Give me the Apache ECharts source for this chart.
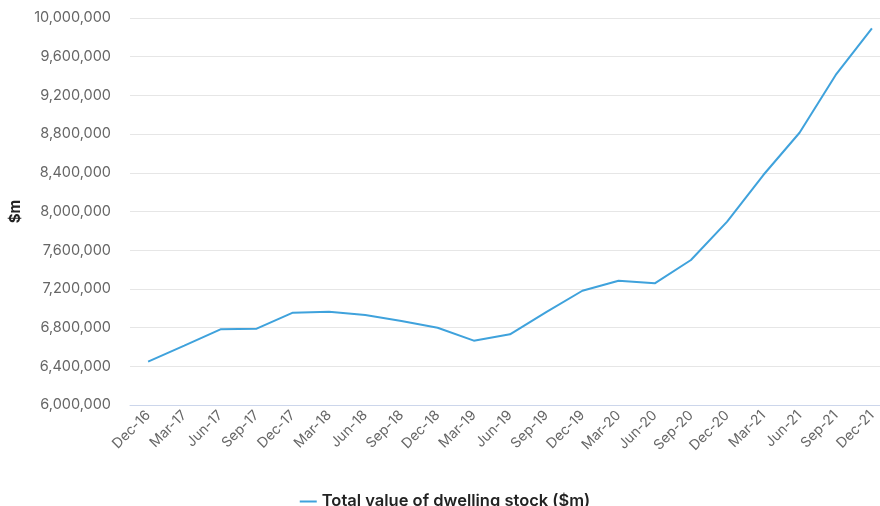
<!DOCTYPE html>
<html>
<head>
<meta charset="utf-8">
<script src="https://cdn.jsdelivr.net/npm/echarts@6/dist/echarts.min.js"></script>
<style>
  html, body { margin: 0; padding: 0; background: #fff; overflow: hidden; }
  /* chart is slightly wider than the window; the right edge is cut off */
  #chart { width: 890px; height: 506px; }
</style>
</head>
<body>
<div id="chart"></div>
<script>
// Quarterly periods
const quarters = [
  'Dec-16', 'Mar-17', 'Jun-17', 'Sep-17', 'Dec-17', 'Mar-18', 'Jun-18',
  'Sep-18', 'Dec-18', 'Mar-19', 'Jun-19', 'Sep-19', 'Dec-19', 'Mar-20',
  'Jun-20', 'Sep-20', 'Dec-20', 'Mar-21', 'Jun-21', 'Sep-21', 'Dec-21'
];

// Total value of dwelling stock, $m
const dwellingStock = [
  6448000, 6613000, 6782000, 6789000, 6954000, 6964000, 6930000,
  6868000, 6799000, 6665000, 6731000, 6960000, 7181000, 7285000,
  7258000, 7499000, 7895000, 8377000, 8814000, 9411000, 9893000
];

const seriesName = 'Total value of dwelling stock ($m)';
const axisName = '$m';
const yMin = 6000000, yMax = 10000000, yStep = 400000;

const fontFamily = 'Inter, "Open Sans", sans-serif';
const chart = echarts.init(document.getElementById('chart'), null, { renderer: 'canvas' });

chart.setOption({
  animation: false,
  backgroundColor: '#ffffff',
  textStyle: { fontFamily },
  grid: { left: 130, top: 18, right: 0, bottom: 101, containLabel: false },
  legend: {
    data: [{ name: seriesName, icon: 'rect' }],
    top: 488,
    left: 'center',
    itemWidth: 17,
    itemHeight: 2,
    itemGap: 6,
    textStyle: { fontFamily, fontSize: 16.5, fontWeight: 600, color: '#222' }
  },
  xAxis: {
    type: 'category',
    data: quarters,
    boundaryGap: true,
    axisLine: { show: true, lineStyle: { color: '#ccd6eb', width: 1 } },
    axisTick: { show: false },
    axisLabel: {
      rotate: 45,
      interval: 0,
      margin: 8,
      fontSize: 14,
      color: '#666',
      fontFamily
    },
    splitLine: { show: false }
  },
  yAxis: {
    type: 'value',
    min: yMin,
    max: yMax,
    interval: yStep,
    name: axisName,
    nameLocation: 'middle',
    nameGap: 106,
    nameRotate: 90,
    nameTextStyle: { fontFamily, fontSize: 15, fontWeight: 'bold', color: '#222' },
    axisLine: { show: false },
    axisTick: { show: false },
    axisLabel: {
      margin: 19,
      fontSize: 14.5,
      color: '#666',
      fontFamily,
      formatter: v => v.toLocaleString('en-US')
    },
    splitLine: { lineStyle: { color: '#e6e6e6', width: 1 } }
  },
  series: [{
    name: seriesName,
    type: 'line',
    data: dwellingStock,
    symbol: 'none',
    smooth: false,
    lineStyle: { color: '#3fa2dc', width: 2 },
    itemStyle: { color: '#3fa2dc' }
  }]
});
</script>
</body>
</html>
